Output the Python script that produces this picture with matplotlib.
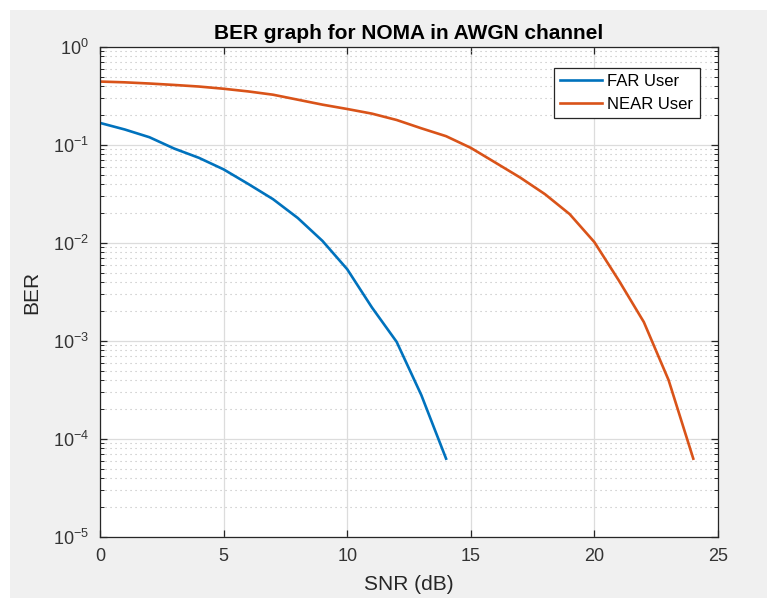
import matplotlib.pyplot as plt
from matplotlib.patches import Rectangle
from matplotlib.ticker import LogLocator, NullFormatter

plt.rcParams["font.family"] = ["Liberation Sans", "DejaVu Sans"]
plt.rcParams["axes.unicode_minus"] = False

snr_far = list(range(0, 15))
ber_far = [0.168, 0.144, 0.12, 0.092, 0.074, 0.0564, 0.040, 0.028, 0.018,
           0.0105, 0.0054, 0.0022, 0.00098, 0.00028, 6.3e-5]

snr_near = list(range(0, 25))
ber_near = [0.444, 0.436, 0.424, 0.41, 0.395, 0.375, 0.352, 0.326, 0.29,
            0.258, 0.233, 0.209, 0.18, 0.148, 0.123, 0.0935, 0.066, 0.0465,
            0.0315, 0.0197, 0.0102, 0.0041, 0.00156, 0.0004, 6.3e-5]

fig = plt.figure(figsize=(7.67, 5.99), dpi=100)
fig.patch.set_facecolor("white")
fig.patches.append(Rectangle((10 / 767, 0.002), 1, 1 - 10 / 599 - 0.002,
                             transform=fig.transFigure, facecolor="#f0f0f0",
                             edgecolor="none", zorder=-10))

ax = fig.add_axes([100 / 767, 1 - 537 / 599, 618 / 767, 490 / 599])
ax.plot(snr_far, ber_far, color="#0072BD", lw=1.9, label="FAR User")
ax.plot(snr_near, ber_near, color="#D95319", lw=1.9, label="NEAR User")

ax.set_yscale("log")
ax.set_xlim(0, 25)
ax.set_ylim(1e-5, 1)
ax.set_xticks([0, 5, 10, 15, 20, 25])
ax.yaxis.set_major_locator(LogLocator(base=10, numticks=10))
ax.yaxis.set_minor_locator(LogLocator(base=10, subs=range(2, 10), numticks=10))
ax.yaxis.set_minor_formatter(NullFormatter())

ax.grid(True, which="major", color="#dcdcdc", lw=0.9, ls="-")
ax.grid(True, which="minor", axis="y", color="#bcbcbc", lw=0.8, ls=(0, (1, 3.5)))
ax.set_axisbelow(True)

ax.tick_params(which="both", direction="in", top=True, right=True,
               colors="#262626", labelcolor="#333333")
ax.tick_params(which="major", length=5, width=0.9, labelsize=13, pad=8)
ax.tick_params(which="minor", length=3, width=0.7)
for s in ax.spines.values():
    s.set_color("#262626")
    s.set_linewidth(0.9)

ax.set_title("BER graph for NOMA in AWGN channel", fontsize=15,
             fontweight="bold", color="black", pad=6)
ax.set_xlabel("SNR (dB)", fontsize=15, color="#262626", labelpad=7)
ax.set_ylabel("BER", fontsize=15, color="#262626", labelpad=8)

leg = ax.legend(loc="upper right", bbox_to_anchor=(0.984, 0.975), fontsize=12,
                handlelength=2.5, labelspacing=0.45, borderpad=0.4,
                handletextpad=0.3, fancybox=False, framealpha=1)
leg.get_frame().set_edgecolor("#262626")
leg.get_frame().set_linewidth(0.9)

plt.savefig("out.png", dpi=100)
plt.close()
